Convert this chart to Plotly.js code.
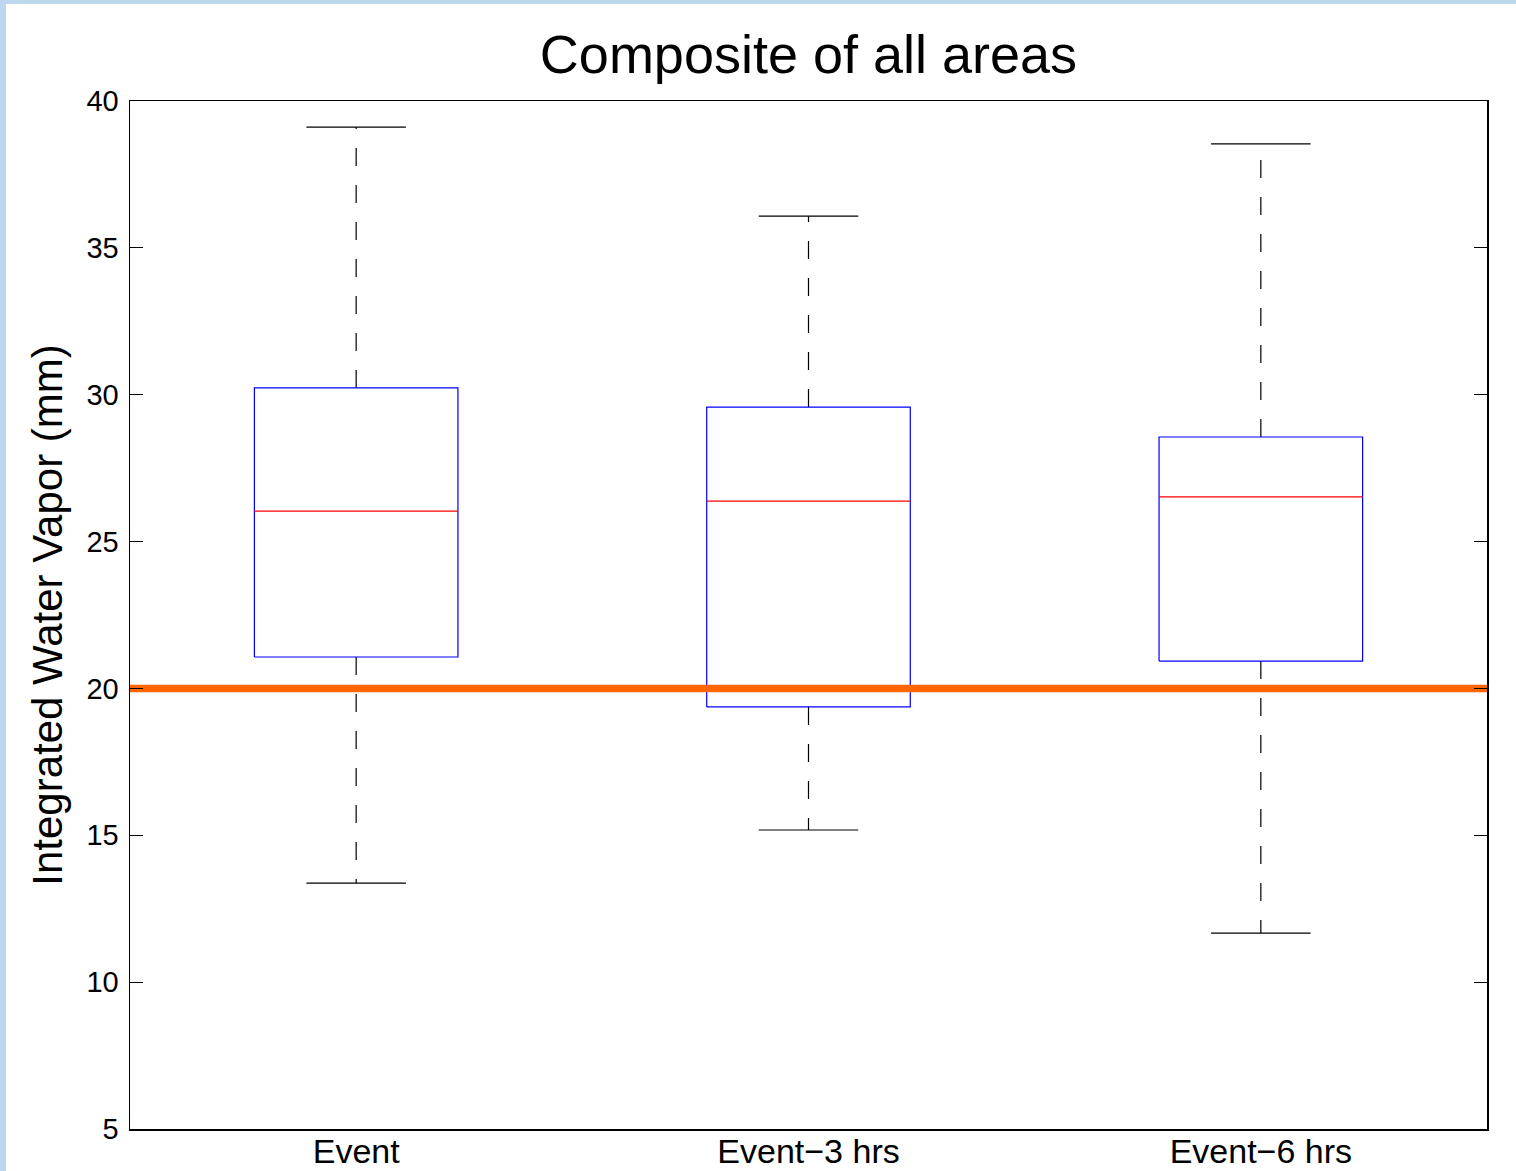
<!DOCTYPE html>
<html>
<head>
<meta charset="utf-8">
<script src="https://cdn.plot.ly/plotly-3.0.1.min.js"></script>
<style>
  html, body { margin: 0; padding: 0; background: #ffffff; }
  #wrap { width: 1510px; height: 1167px; border-left: 6px solid #BDD7EE; border-top: 4px solid #BDD7EE; background: #fff; }
  #chart { width: 1510px; height: 1167px; }
</style>
</head>
<body>
<div id="wrap"><div id="chart"></div></div>
<script>
// ---- data ----
var categories = ["Event", "Event\u22123 hrs", "Event\u22126 hrs"];
var upperWhisker = [39.11, 36.08, 38.54];
var q3Values     = [30.23, 29.58, 28.56];
var medianValues = [26.04, 26.38, 26.52];
var q1Values     = [21.07, 19.37, 20.93];
var lowerWhisker = [13.37, 15.18, 11.67];
var thresholdValue = 20;
var yTickValues = [5, 10, 15, 20, 25, 30, 35, 40];

// ---- build traces ----
var halfBox = 0.225, halfCap = 0.11;
var traces = [];
var FONT = "Liberation Sans, Arial, sans-serif";

categories.forEach(function (cat, k) {
  var xc = k + 1;
  // whiskers (dashed)
  traces.push({type: "scatter", mode: "lines", x: [xc, xc], y: [q3Values[k], upperWhisker[k]],
    line: {color: "#000000", width: 1.2, dash: "18px,19px"}, hoverinfo: "skip", showlegend: false});
  traces.push({type: "scatter", mode: "lines", x: [xc, xc], y: [q1Values[k], lowerWhisker[k]],
    line: {color: "#000000", width: 1.2, dash: "18px,19px"}, hoverinfo: "skip", showlegend: false});
  // caps
  traces.push({type: "scatter", mode: "lines", x: [xc - halfCap, xc + halfCap], y: [upperWhisker[k], upperWhisker[k]],
    line: {color: "#000000", width: 1.2}, hoverinfo: "skip", showlegend: false});
  traces.push({type: "scatter", mode: "lines", x: [xc - halfCap, xc + halfCap], y: [lowerWhisker[k], lowerWhisker[k]],
    line: {color: "#000000", width: 1.2}, hoverinfo: "skip", showlegend: false});
  // box
  traces.push({type: "scatter", mode: "lines",
    x: [xc - halfBox, xc + halfBox, xc + halfBox, xc - halfBox, xc - halfBox],
    y: [q1Values[k], q1Values[k], q3Values[k], q3Values[k], q1Values[k]],
    line: {color: "#0000FF", width: 1.2}, hoverinfo: "skip", showlegend: false});
  // median
  traces.push({type: "scatter", mode: "lines", x: [xc - halfBox, xc + halfBox], y: [medianValues[k], medianValues[k]],
    line: {color: "#FF0000", width: 1.2}, hoverinfo: "skip", showlegend: false});
});

// threshold line
traces.push({type: "scatter", mode: "lines", x: [0.5, categories.length + 0.5], y: [thresholdValue, thresholdValue],
  line: {color: "#FF6600", width: 7.5}, hoverinfo: "skip", showlegend: false, cliponaxis: true});

var layout = {
  width: 1510, height: 1167,
  margin: {l: 124, r: 29, t: 97, b: 42},
  paper_bgcolor: "#ffffff", plot_bgcolor: "#ffffff",
  showlegend: false,
  font: {family: FONT, color: "#000000"},
  title: {text: "Composite of all areas", font: {family: FONT, size: 54, color: "#000000"},
          x: 0.5, xref: "paper", xanchor: "center", y: 1 - 50 / 1167, yref: "container", yanchor: "middle"},
  xaxis: {range: [0.5, categories.length + 0.5], tickmode: "array",
          tickvals: categories.map(function (c, i) { return i + 1; }), ticktext: categories,
          ticks: "", showgrid: false, zeroline: false, showline: true, mirror: true,
          linecolor: "#000000", linewidth: 1.5, tickfont: {family: FONT, size: 34, color: "#000000"},
          ticklabelstandoff: -8, fixedrange: true},
  yaxis: {range: [5, 40], tickmode: "array", tickvals: yTickValues, ticktext: yTickValues.map(String),
          ticks: "inside", ticklen: 13, tickwidth: 1.2, tickcolor: "#000000",
          showgrid: false, zeroline: false, showline: true, mirror: "ticks",
          linecolor: "#000000", linewidth: 1.5, tickfont: {family: FONT, size: 29, color: "#000000"},
          ticklabelstandoff: 4,
          title: {text: "Integrated Water Vapor (mm)", font: {family: FONT, size: 42, color: "#000000"}, standoff: 10},
          automargin: false, fixedrange: true}
};

Plotly.newPlot("chart", traces, layout, {displayModeBar: false, staticPlot: true});
</script>
</body>
</html>
